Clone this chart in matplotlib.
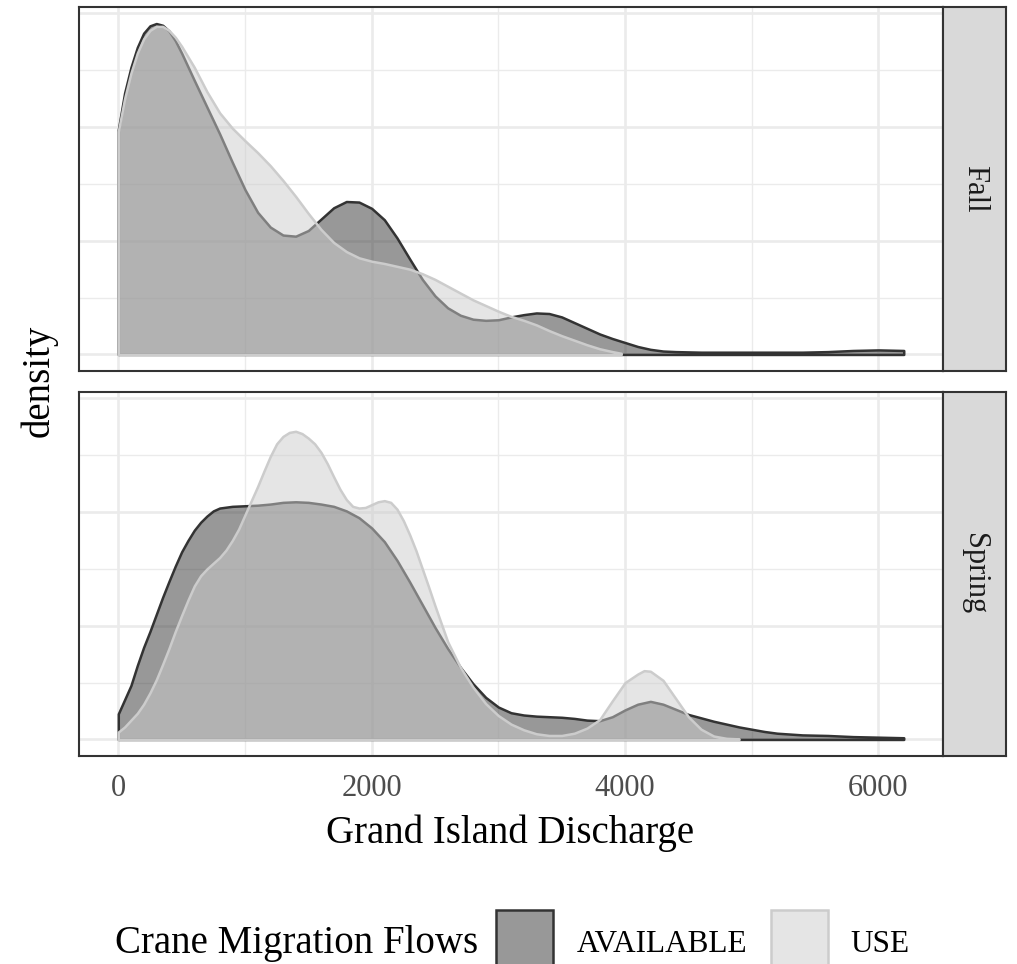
import numpy as np
import matplotlib.pyplot as plt
from matplotlib.patches import Rectangle

plt.rcParams['font.family'] = ['Liberation Serif', 'DejaVu Serif']

# densities, in units of 1e-4
fall_avail_x = [0, 50, 100, 150, 200, 250, 300, 350, 400, 450, 500, 600, 700, 800, 900, 1000,
                1100, 1200, 1300, 1400, 1500, 1600, 1700, 1800, 1900, 2000, 2100, 2200, 2300,
                2400, 2500, 2600, 2700, 2800, 2900, 3000, 3100, 3200, 3300, 3400, 3500, 3600,
                3700, 3800, 3900, 4000, 4100, 4200, 4300, 4400, 4600, 4800, 5000, 5200, 5400,
                5600, 5800, 6000, 6200]
fall_avail_y = [3.95, 4.6, 5.05, 5.4, 5.65, 5.78, 5.82, 5.79, 5.69, 5.52, 5.3, 4.82, 4.35, 3.88,
                3.38, 2.9, 2.5, 2.24, 2.1, 2.08, 2.18, 2.38, 2.58, 2.69, 2.68, 2.57, 2.37, 2.05,
                1.68, 1.32, 1.03, 0.82, 0.69, 0.62, 0.6, 0.61, 0.66, 0.7, 0.73, 0.72, 0.66, 0.56,
                0.46, 0.36, 0.28, 0.21, 0.14, 0.09, 0.06, 0.05, 0.04, 0.04, 0.04, 0.04, 0.04,
                0.05, 0.07, 0.08, 0.07]

fall_use_x = [0, 50, 100, 150, 200, 250, 300, 350, 400, 450, 500, 600, 700, 800, 900, 1000,
              1100, 1200, 1300, 1400, 1500, 1600, 1700, 1800, 1900, 2000, 2100, 2200, 2300,
              2400, 2500, 2600, 2700, 2800, 2900, 3000, 3100, 3200, 3300, 3400, 3500, 3600,
              3700, 3800, 3900, 3970]
fall_use_y = [3.92, 4.5, 4.95, 5.3, 5.55, 5.7, 5.77, 5.77, 5.7, 5.58, 5.42, 5.05, 4.62, 4.25,
              3.98, 3.76, 3.55, 3.32, 3.06, 2.78, 2.48, 2.2, 1.97, 1.81, 1.7, 1.64, 1.6, 1.55,
              1.5, 1.42, 1.32, 1.2, 1.08, 0.96, 0.86, 0.76, 0.67, 0.6, 0.52, 0.42, 0.33, 0.25,
              0.17, 0.1, 0.05, 0.02]

spring_avail_x = [0, 50, 100, 150, 200, 250, 300, 350, 400, 450, 500, 550, 600, 650, 700, 750,
                  800, 900, 1000, 1100, 1200, 1300, 1400, 1500, 1600, 1700, 1800, 1900, 2000,
                  2100, 2200, 2300, 2400, 2500, 2600, 2700, 2800, 2900, 3000, 3100, 3200, 3300,
                  3400, 3500, 3600, 3700, 3800, 3900, 4000, 4100, 4200, 4300, 4400, 4500, 4600,
                  4700, 4800, 4900, 5000, 5100, 5200, 5400, 5600, 5800, 6000, 6200]
spring_avail_y = [0.45, 0.7, 0.95, 1.3, 1.62, 1.9, 2.2, 2.5, 2.78, 3.05, 3.3, 3.5, 3.68, 3.82,
                  3.93, 4.02, 4.07, 4.1, 4.11, 4.12, 4.14, 4.17, 4.18, 4.17, 4.14, 4.1, 4.02,
                  3.9, 3.72, 3.48, 3.15, 2.77, 2.37, 1.97, 1.6, 1.27, 0.98, 0.74, 0.57, 0.47,
                  0.43, 0.41, 0.4, 0.39, 0.37, 0.34, 0.33, 0.4, 0.52, 0.62, 0.67, 0.62, 0.53,
                  0.44, 0.38, 0.32, 0.27, 0.22, 0.18, 0.14, 0.11, 0.08, 0.07, 0.05, 0.04, 0.03]

spring_use_x = [0, 50, 100, 150, 200, 250, 300, 350, 400, 450, 500, 550, 600, 650, 700, 750,
                800, 850, 900, 950, 1000, 1050, 1100, 1150, 1200, 1250, 1300, 1350, 1400, 1450,
                1500, 1550, 1600, 1650, 1700, 1750, 1800, 1850, 1900, 1950, 2000, 2050, 2100,
                2150, 2200, 2250, 2300, 2350, 2400, 2450, 2500, 2600, 2700, 2800, 2900, 3000,
                3100, 3200, 3300, 3400, 3500, 3600, 3700, 3800, 3900, 4000, 4100, 4150, 4200,
                4300, 4400, 4500, 4600, 4700, 4800, 4900]
spring_use_y = [0.13, 0.22, 0.34, 0.46, 0.62, 0.82, 1.05, 1.32, 1.6, 1.9, 2.18, 2.45, 2.7,
                2.88, 3.0, 3.1, 3.2, 3.33, 3.5, 3.7, 3.95, 4.2, 4.45, 4.72, 4.98, 5.2, 5.33,
                5.4, 5.42, 5.38, 5.3, 5.2, 5.05, 4.85, 4.62, 4.4, 4.22, 4.1, 4.07, 4.08, 4.13,
                4.18, 4.2, 4.17, 4.05, 3.85, 3.6, 3.32, 3.0, 2.68, 2.35, 1.72, 1.27, 0.92,
                0.63, 0.42, 0.27, 0.17, 0.1, 0.07, 0.07, 0.11, 0.2, 0.35, 0.68, 1.0, 1.15,
                1.21, 1.2, 1.04, 0.72, 0.4, 0.18, 0.06, 0.02, 0.01]

panels = ['Fall', 'Spring']
groups = ['AVAILABLE', 'USE']
fills = {'AVAILABLE': (0.2, 0.2, 0.2, 0.5), 'USE': (0.8, 0.8, 0.8, 0.5)}
lines = {'AVAILABLE': '#333333', 'USE': '#cccccc'}
data = {
    'Fall': {'AVAILABLE': (fall_avail_x, fall_avail_y), 'USE': (fall_use_x, fall_use_y)},
    'Spring': {'AVAILABLE': (spring_avail_x, spring_avail_y), 'USE': (spring_use_x, spring_use_y)},
}

W, H = 1017, 964
fig = plt.figure(figsize=(W / 100, H / 100), dpi=100)

def px_box(x0, y0, x1, y1):
    return [x0 / W, 1 - y1 / H, (x1 - x0) / W, (y1 - y0) / H]

tops = [(7, 371), (392, 756)]
ymax = 5.82e-4
for i, panel in enumerate(panels):
    y0, y1 = tops[i]
    ax = fig.add_axes(px_box(79, y0, 943, y1))
    for g in groups:
        x, y = data[panel][g]
        ax.fill_between(x, np.array(y) * 1e-4, 0, facecolor=fills[g], edgecolor=lines[g],
                        linewidth=1.8, joinstyle='round', zorder=3)
    ax.set_xlim(-310, 6510)
    ax.set_ylim(-0.05 * ymax, 1.05 * ymax)
    ax.set_xticks([0, 2000, 4000, 6000])
    ax.set_xticks([1000, 3000, 5000], minor=True)
    ax.set_yticks([0, 2e-4, 4e-4, 6e-4])
    ax.set_yticks([1e-4, 3e-4, 5e-4], minor=True)
    ax.grid(which='major', color='#ebebeb', linewidth=1.9)
    ax.grid(which='minor', color='#ebebeb', linewidth=1.0)
    ax.set_axisbelow(True)
    ax.tick_params(which='both', length=0, labelleft=False, pad=13,
                   labelsize=22, labelcolor='#4d4d4d')
    if i == 0:
        ax.tick_params(labelbottom=False)
    for s in ax.spines.values():
        s.set_color('#333333')
        s.set_linewidth(1.5)

    strip = fig.add_axes(px_box(943, y0, 1006, y1))
    strip.set_facecolor('#d9d9d9')
    strip.set_xticks([])
    strip.set_yticks([])
    for s in strip.spines.values():
        s.set_color('#333333')
        s.set_linewidth(1.5)
    strip.text(0.5, 0.5, panel, rotation=-90, ha='center', va='center',
               fontsize=22, color='#1a1a1a', transform=strip.transAxes)

fig.text(510 / W, 1 - 833 / H, 'Grand Island Discharge', ha='center', va='center', fontsize=28)
fig.text(39 / W, 1 - 381 / H, 'density', rotation=90, ha='center', va='center', fontsize=28)

# legend
fig.text(115 / W, 1 - 953 / H, 'Crane Migration Flows', ha='left', va='baseline', fontsize=28)
keys = [('AVAILABLE', 496, 577), ('USE', 771, 850)]
for g, kx, tx in keys:
    fig.add_artist(Rectangle((kx / W, 1 - 967 / H), 57 / W, 57 / H, transform=fig.transFigure,
                             facecolor=fills[g], edgecolor=lines[g], linewidth=1.8))
    fig.text(tx / W, 1 - 952 / H, g, ha='left', va='baseline', fontsize=22.5)

fig.savefig('out.png', dpi=100)
